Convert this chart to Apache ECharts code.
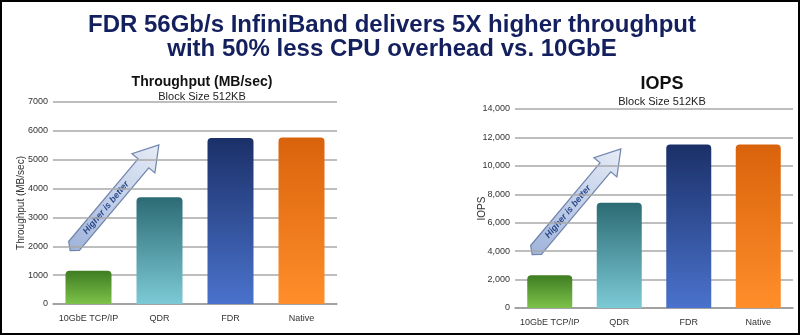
<!DOCTYPE html>
<html><head><meta charset="utf-8">
<script src="https://cdn.jsdelivr.net/npm/echarts@6/dist/echarts.min.js"></script>
<style>html,body{margin:0;padding:0;background:#fff}#c{width:800px;height:335px}</style>
</head><body><div id="c"></div>
<script>
const categories = ['10GbE TCP/IP', 'QDR', 'FDR', 'Native'];
const throughputValues = [1150, 3700, 5750, 5770];
const iopsValues = [2300, 7400, 11500, 11500];
const throughputTicks = [0, 1000, 2000, 3000, 4000, 5000, 6000, 7000];
const iopsTicks = [0, 2000, 4000, 6000, 8000, 10000, 12000, 14000];

const barColors = [
  ['#3f7d22', '#7dc24a'],
  ['#2c6b74', '#7ccad6'],
  ['#1b3068', '#4a72cc'],
  ['#d9630c', '#ff8e2a']
];
function grad(i) {
  return new echarts.graphic.LinearGradient(0, 0, 0, 1, [
    {offset: 0, color: barColors[i][0]},
    {offset: 1, color: barColors[i][1]}
  ]);
}
function barData(vals) {
  return vals.map((v, i) => ({value: v, itemStyle: {color: grad(i)}}));
}
const fontFam = 'Liberation Sans Narrow, Liberation Sans, Arial, sans-serif';

function arrow(x, y) {
  const L = 132, sw = 7, hw = 15, hl = 24;
  return {
    type: 'group', x: x, y: y, rotation: 50 * Math.PI / 180,
    children: [
      {type: 'polygon', shape: {points: [[0, -sw], [L - hl, -sw], [L - hl, -hw], [L, 0], [L - hl, hw], [L - hl, sw], [0, sw], [-6, 0]]},
       style: {fill: new echarts.graphic.LinearGradient(0, 0, 1, 0, [{offset: 0, color: '#9fb3da'}, {offset: 1, color: '#e6ecf7'}]), stroke: '#6f84ad', lineWidth: 1.2}},
      {type: 'text', x: 50, y: 0, style: {text: 'Higher is better', fill: '#2b4a8c', font: 'italic bold 9px ' + fontFam, align: 'center', verticalAlign: 'middle'}}
    ]
  };
}

const chart = echarts.init(document.getElementById('c'), null, {renderer: 'canvas'});
const axisLabel = {color: '#333', fontSize: 9, fontFamily: fontFam};
chart.setOption({
  animation: false,
  backgroundColor: '#fff',
  title: [
    {text: 'FDR 56Gb/s InfiniBand delivers 5X higher throughput\nwith 50% less CPU overhead vs. 10GbE', left: 387, top: 8, textAlign: 'center',
     textStyle: {color: '#14205e', fontSize: 24, fontWeight: 'bold', fontFamily: fontFam, lineHeight: 24}},
    {text: 'Throughput (MB/sec)', subtext: 'Block Size 512KB', left: 197, top: 70, textAlign: 'center', itemGap: 2,
     textStyle: {color: '#111', fontSize: 14, fontWeight: 'bold', fontFamily: fontFam},
     subtextStyle: {color: '#222', fontSize: 11, fontFamily: fontFam}},
    {text: 'IOPS', subtext: 'Block Size 512KB', left: 657, top: 70, textAlign: 'center', itemGap: 3,
     textStyle: {color: '#111', fontSize: 18, fontWeight: 'bold', fontFamily: fontFam},
     subtextStyle: {color: '#222', fontSize: 11, fontFamily: fontFam}}
  ],
  grid: [
    {left: 53, top: 102, width: 284, height: 202},
    {left: 515, top: 109, width: 278, height: 199}
  ],
  xAxis: [
    {type: 'category', gridIndex: 0, data: categories, axisTick: {show: false}, axisLine: {lineStyle: {color: '#999', width: 1.5}}, axisLabel: Object.assign({margin: 10, interval: 0}, axisLabel)},
    {type: 'category', gridIndex: 1, data: categories, axisTick: {show: false}, axisLine: {lineStyle: {color: '#999', width: 1.5}}, axisLabel: Object.assign({margin: 10, interval: 0}, axisLabel)}
  ],
  yAxis: [
    {type: 'value', gridIndex: 0, min: throughputTicks[0], max: throughputTicks[throughputTicks.length - 1], interval: 1000,
     name: 'Throughput (MB/sec)', nameLocation: 'middle', nameGap: 27, nameMoveOverlap: false, nameTextStyle: {color: '#333', fontSize: 10, fontFamily: fontFam},
     axisLine: {show: false}, axisTick: {show: false}, axisLabel: Object.assign({margin: 5, formatter: v => String(v)}, axisLabel),
     splitLine: {lineStyle: {color: '#a8a8a8', width: 1.5}}},
    {type: 'value', gridIndex: 1, min: iopsTicks[0], max: iopsTicks[iopsTicks.length - 1], interval: 2000,
     name: 'IOPS', nameLocation: 'middle', nameGap: 28, nameMoveOverlap: false, nameTextStyle: {color: '#333', fontSize: 10, fontFamily: fontFam},
     axisLine: {show: false}, axisTick: {show: false},
     axisLabel: Object.assign({margin: 5, formatter: v => v.toLocaleString('en-US')}, axisLabel),
     splitLine: {lineStyle: {color: '#a8a8a8', width: 1.5}}}
  ],
  series: [
    {type: 'bar', xAxisIndex: 0, yAxisIndex: 0, data: barData(throughputValues), barWidth: 46, itemStyle: {borderRadius: [4, 4, 0, 0]}},
    {type: 'bar', xAxisIndex: 1, yAxisIndex: 1, data: barData(iopsValues), barWidth: 45, itemStyle: {borderRadius: [4, 4, 0, 0]}}
  ],
  graphic: [
    {type: 'rect', shape: {x: 1, y: 1, width: 798, height: 333}, style: {fill: 'none', stroke: '#000', lineWidth: 2}, silent: true},
    arrow(74, 246),
    arrow(536, 250)
  ]
});
</script></body></html>
